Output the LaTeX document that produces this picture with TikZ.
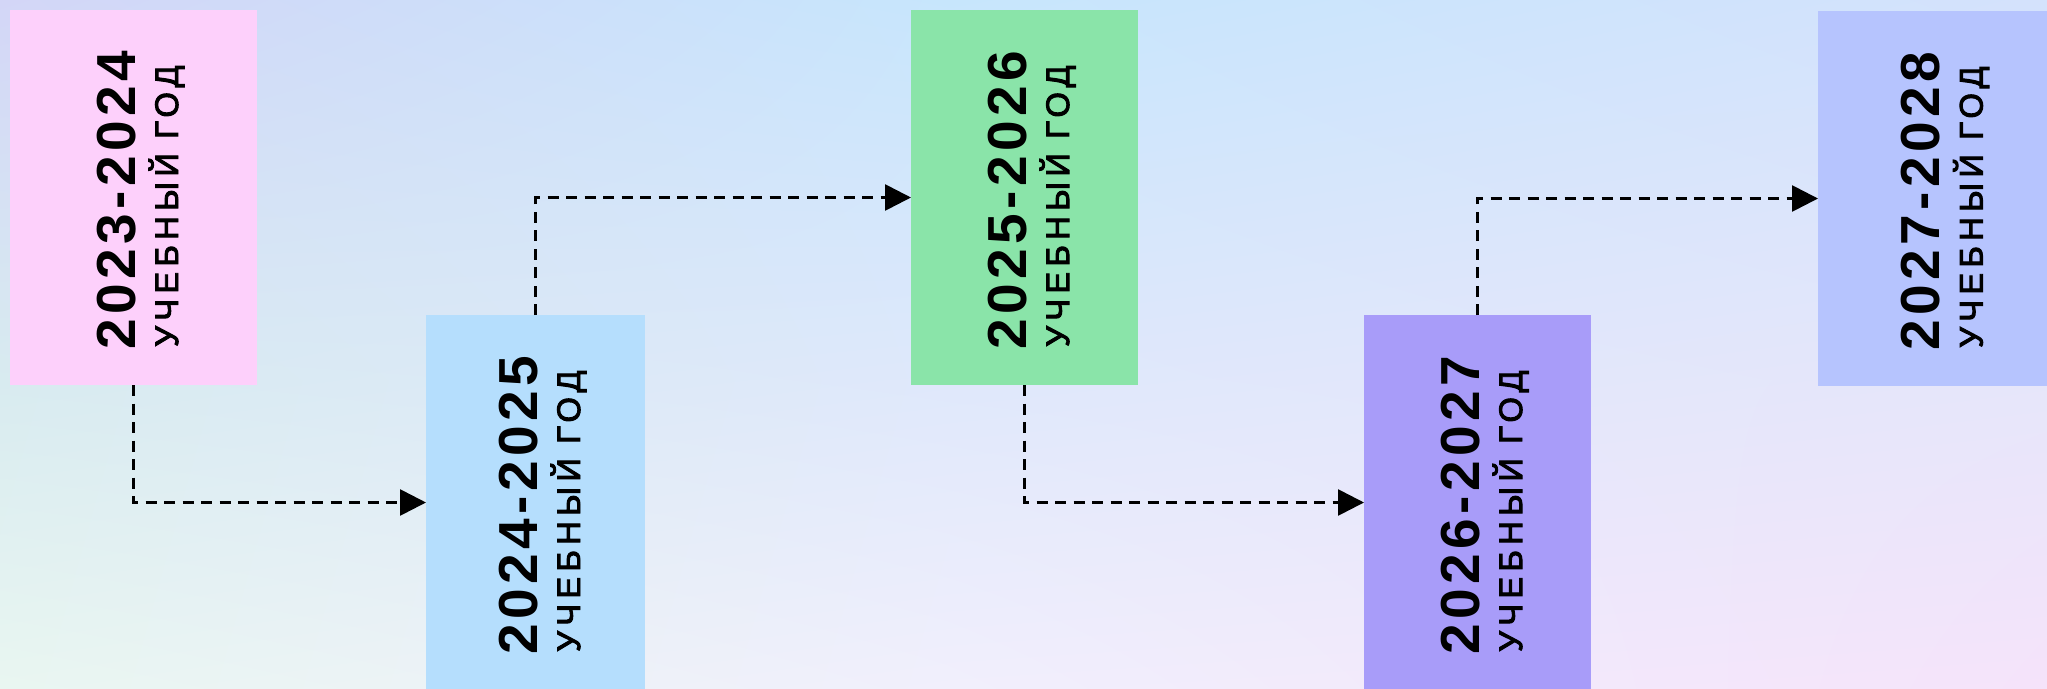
\documentclass[tikz,border=0pt]{standalone}
\usepackage{fontspec}
\setmainfont{Liberation Sans}
\newfontfamily\yearfont{Liberation Sans}[LetterSpace=8]
\newfontfamily\subfont{Liberation Sans}[LetterSpace=16.5,FakeBold=3]
\usetikzlibrary{arrows.meta,calc,shadings}
\definecolor{gAA}{HTML}{D3D6F7}
\definecolor{gBA}{HTML}{C7E6FC}
\definecolor{gCA}{HTML}{D4E2FC}
\definecolor{gAB}{HTML}{D8EBF0}
\definecolor{gBB}{HTML}{DFE8FB}
\definecolor{gCB}{HTML}{E6E6FA}
\definecolor{gAC}{HTML}{E9F6F1}
\definecolor{gBC}{HTML}{F1EFFC}
\definecolor{gCC}{HTML}{F5E3FA}
\definecolor{boxpink}{HTML}{FDD0FB}
\definecolor{boxblue}{HTML}{B5DEFD}
\definecolor{boxgreen}{HTML}{8AE4A9}
\definecolor{boxpurple}{HTML}{A89CF9}
\definecolor{boxlav}{HTML}{B6C4FE}
\begin{document}
\begin{tikzpicture}[x=1pt,y=-1pt,
  box/.style={inner sep=0pt, outer sep=0pt, minimum height=375pt},
  yearlbl/.style={rotate=90, anchor=base west, inner sep=0pt,
    font=\yearfont\bfseries\fontsize{55}{60}\selectfont},
  sublbl/.style={rotate=90, anchor=base west, inner sep=0pt,
    font=\subfont\fontsize{32.6}{40}\selectfont},
  conn/.style={line width=2.7pt, dash pattern=on 11pt off 7.5pt,
    -{Triangle[length=26pt,width=26pt]}}]
\useasboundingbox (0,0) rectangle (2047,688);
\clip (0,0) rectangle (2047,688);
\shade[upper left=gAA, upper right=gBA, lower left=gAB, lower right=gBB]
  (0,0) rectangle (951,381);
\shade[upper left=gBA, upper right=gCA, lower left=gBB, lower right=gCB]
  (950,0) rectangle (2047,381);
\shade[upper left=gAB, upper right=gBB, lower left=gAC, lower right=gBC]
  (0,380) rectangle (951,688);
\shade[upper left=gBB, upper right=gCB, lower left=gBC, lower right=gCC]
  (950,380) rectangle (2047,688);
% boxes
\node[box, fill=boxpink,   minimum width=247pt] (b1) at (133.5,197.5) {};
\node[box, fill=boxblue,   minimum width=219pt] (b2) at (535.5,502.5) {};
\node[box, fill=boxgreen,  minimum width=227pt] (b3) at (1024.5,197.5) {};
\node[box, fill=boxpurple, minimum width=227pt] (b4) at (1477.5,502.5) {};
\node[box, fill=boxlav,    minimum width=240pt] (b5) at (1938,198.5) {};
% connectors
\draw[conn] (b1.south) |- (b2.west);
\draw[conn] (b2.north) |- (b3.west);
\draw[conn] (b3.south) |- (b4.west);
\draw[conn] (b4.north) |- (b5.west);
% labels
\node[yearlbl] (y1) at ($(b1.north)+(1.5,339.5)$) {2023-2024};
\node[sublbl]  (s1) at ($(b1.north)+(44.5,337)$) {УЧЕБНЫЙ ГОД};
\node[yearlbl] (y2) at ($(b2.north)+(1.5,339.5)$) {2024-2025};
\node[sublbl]  (s2) at ($(b2.north)+(44.5,337)$) {УЧЕБНЫЙ ГОД};
\node[yearlbl] (y3) at ($(b3.north)+(1.5,339.5)$) {2025-2026};
\node[sublbl]  (s3) at ($(b3.north)+(44.5,337)$) {УЧЕБНЫЙ ГОД};
\node[yearlbl] (y4) at ($(b4.north)+(1.5,339.5)$) {2026-2027};
\node[sublbl]  (s4) at ($(b4.north)+(44.5,337)$) {УЧЕБНЫЙ ГОД};
\node[yearlbl] (y5) at ($(b5.north)+(1.5,339.5)$) {2027-2028};
\node[sublbl]  (s5) at ($(b5.north)+(44.5,337)$) {УЧЕБНЫЙ ГОД};
\end{tikzpicture}
\end{document}
